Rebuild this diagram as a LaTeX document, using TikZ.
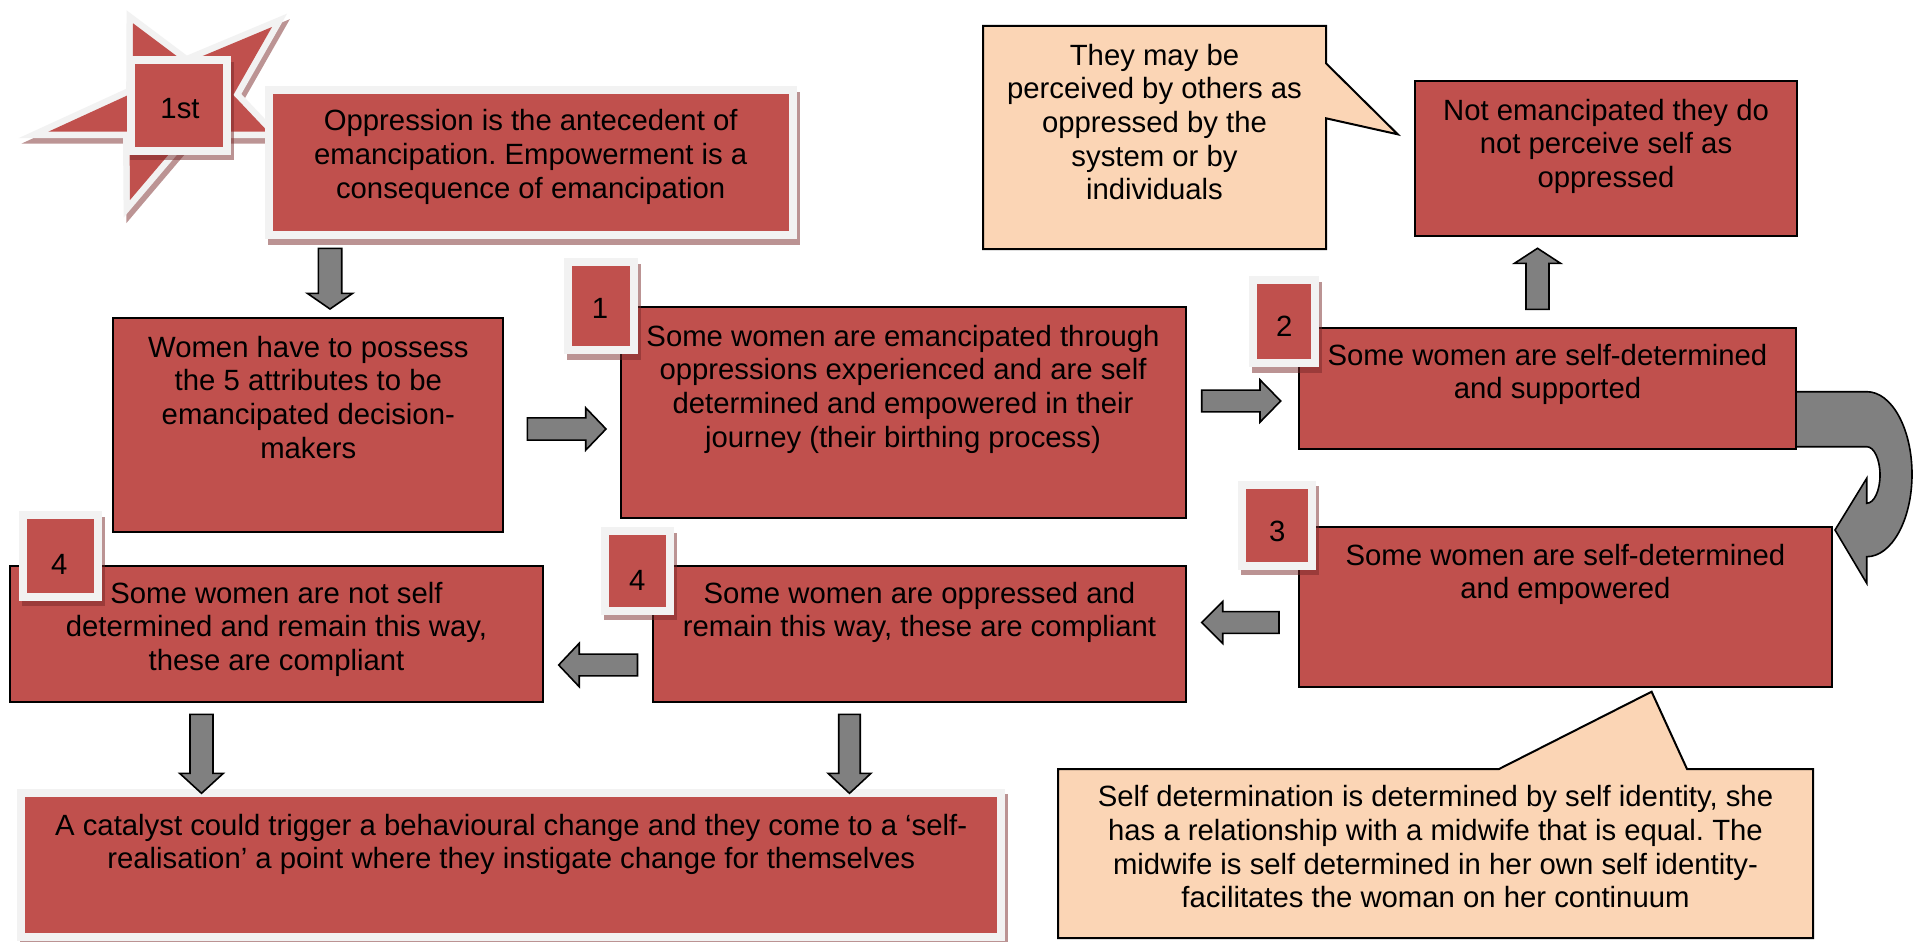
\documentclass[tikz,border=0pt]{standalone}
\usepackage{fontspec}
\setmainfont{Liberation Sans}
\usetikzlibrary{calc}
\frenchspacing

\definecolor{boxred}{HTML}{C0504D}
\definecolor{bandgray}{HTML}{F2F2F2}
\definecolor{peach}{HTML}{FBD5B5}
\definecolor{arrowgray}{HTML}{808080}
\definecolor{shadowred}{RGB}{120,40,40}
\definecolor{starshade}{RGB}{188,148,148}

\newcommand{\bodyfont}{\fontsize{29.3}{33.7}\selectfont}

\tikzset{
  redbox/.style={draw=black, line width=2pt, fill=boxred, inner sep=0pt},
  framedbox/.style={draw=bandgray, line width=8pt, fill=boxred, inner sep=0pt},
  bodytext/.style={font=\bodyfont, align=center, inner sep=0pt, anchor=north},
  numtext/.style={font=\bodyfont, inner sep=0pt, anchor=base},
  calloutshape/.style={draw=black, line width=2pt, fill=peach, line join=miter},
  flowarrow/.style={draw=black, line width=1.6pt, fill=arrowgray, line join=miter},
  castshadow/.style={fill=shadowred, fill opacity=0.5},
  starpath/.style={insert path={(133,23.3) -- (186,63) -- (272,27) -- (233.3,95)
      -- (268,131.7) -- (188,131.7) -- (130,200) -- (129.5,131.7) -- (48.3,131.7)
      -- (132.7,93) -- cycle}},
}

% rectangle node with a black outline, given by its corners
\newcommand{\outlinedpanel}[5]{%
  \node[redbox, minimum width={#4-#2}, minimum height={#5-#3}]
    (#1) at ({(#2+#4)/2},{(#3+#5)/2}) {};}

% red panel inside a light frame with a cast shadow; corners of the red part
\newcommand{\framedpanel}[5]{%
  \fill[castshadow] ({#2-8+2.8},{#3-8+5.5}) rectangle ({#4+8+2.8},{#5+8+5.5});
  \node[framedbox, minimum width={#4-#2+8}, minimum height={#5-#3+8}]
    (#1) at ({(#2+#4)/2},{(#3+#5)/2}) {};}

% block arrow: tail point, direction, length, shaft width, head width, head length
\newcommand{\blockarrow}[6]{%
  \begin{scope}[shift={(#1)}, rotate=#2]
    \draw[flowarrow] (0,{-#4/2}) -- ({#3-#6},{-#4/2}) -- ({#3-#6},{-#5/2}) -- (#3,0)
      -- ({#3-#6},{#5/2}) -- ({#3-#6},{#4/2}) -- (0,{#4/2}) -- cycle;
  \end{scope}}

\begin{document}
\begin{tikzpicture}[x=1pt, y=-1pt]
\useasboundingbox (0,0) rectangle (1917,942);
\fill[white] (0,0) rectangle (1917,942);

% star behind the "1st" badge
\filldraw[shift={(2.8,5.5)}, fill=starshade, draw=starshade, line width=13pt, line join=miter, starpath];
\filldraw[fill=bandgray, draw=bandgray, line width=13pt, line join=miter, starpath];
\fill[boxred, starpath];

% U-turn arrow from "supported" down to "empowered"
\draw[flowarrow] (1796,391.7) -- (1866.7,391.7)
  .. controls (1891.7,391.7) and (1912,428.6) .. (1912,474.2)
  .. controls (1912,519.8) and (1891.7,556.7) .. (1866.7,556.7)
  -- (1866.7,583.3) -- (1835,530) -- (1866.7,478.3) -- (1866.7,503.3)
  .. controls (1874.1,503.3) and (1880,490.6) .. (1880,475)
  .. controls (1880,459.4) and (1874.1,446.7) .. (1866.7,446.7)
  -- (1796,446.7) -- cycle;

% outlined statement boxes
\outlinedpanel{women}{113.3}{318.3}{503.3}{531.7}
\outlinedpanel{emanc}{620.5}{307}{1185.5}{518.3}
\outlinedpanel{supported}{1299}{327.7}{1796}{449}
\outlinedpanel{empowered}{1299}{526.7}{1832}{687}
\outlinedpanel{notemanc}{1415}{81}{1797}{236}
\outlinedpanel{oppressed}{653.3}{566}{1185.5}{702}
\outlinedpanel{notself}{10}{565.7}{543}{702}

% framed boxes
\framedpanel{antecedent}{272.7}{94}{788.7}{231}
\framedpanel{catalyst}{25.3}{796.7}{997.2}{933}

% numbered badges
\framedpanel{badge1st}{135}{64.3}{223.3}{146.7}
\framedpanel{badge1}{572}{266}{630}{346}
\framedpanel{badge2}{1257.3}{284.3}{1311.3}{359.3}
\framedpanel{badge3}{1246}{488.7}{1308}{561.7}
\framedpanel{badge4a}{26.7}{519.3}{94}{592.7}
\framedpanel{badge4b}{609.3}{535}{665.7}{606.7}

% callouts
\draw[calloutshape] (983,26) -- (1326,26) -- (1326,63.3) -- (1397.7,134.3) -- (1326,118.3)
  -- (1326,249) -- (983,249) -- cycle;
\draw[calloutshape] (1058,769) -- (1499,769) -- (1651.6,691.7) -- (1687,769) -- (1813,769)
  -- (1813,938) -- (1058,938) -- cycle;

% straight block arrows
\coordinate (a-ant-wom) at (330,248.3);
\coordinate (a-wom-emc) at (527.3,429);
\coordinate (a-emc-sup) at (1201.7,401);
\coordinate (a-sup-not) at (1537.5,309.3);
\coordinate (a-emp-opp) at (1279,622.5);
\coordinate (a-opp-nsd) at (637.5,665);
\coordinate (a-nsd-cat) at (201.5,714.3);
\coordinate (a-opp-cat) at (849.5,714.3);
\blockarrow{a-ant-wom}{-90}{60.7}{23.4}{45.4}{15.7}
\blockarrow{a-wom-emc}{0}{78.7}{22.3}{42.3}{20.3}
\blockarrow{a-emc-sup}{0}{79}{21.7}{42.3}{20.7}
\blockarrow{a-sup-not}{90}{61}{23}{46}{15}
\blockarrow{a-emp-opp}{180}{77.3}{21.7}{41.7}{21}
\blockarrow{a-opp-nsd}{180}{78.8}{21.7}{43.4}{20.5}
\blockarrow{a-nsd-cat}{-90}{79}{23}{43.7}{20}
\blockarrow{a-opp-cat}{-90}{79}{21.5}{43}{20}

% badge numbers
\node[numtext] (n1st) at (180,118) {1st};
\node[numtext] (n1) at (600,318.3) {1};
\node[numtext] (n2) at (1284.3,336.7) {2};
\node[numtext] (n3) at (1277.3,541.7) {3};
\node[numtext] (n4a) at (59.3,574) {4};
\node[numtext] (n4b) at (637.3,590) {4};

% box texts
\node[bodytext] (t-antecedent) at (530.7,107.1)
  {\strut Oppression is the antecedent of\\emancipation. Empowerment is a\\consequence of emancipation};
\node[bodytext] (t-women) at (308.3,333.4)
  {\strut Women have to possess\\the 5 attributes to be\\emancipated decision-\\makers};
\node[bodytext] (t-emanc) at (903,322.4)
  {\strut Some women are emancipated through\\oppressions experienced and are self\\determined and empowered in their\\journey (their birthing process)};
\node[bodytext] (t-supported) at (1547.5,341.4)
  {\strut Some women are self-determined\\and supported};
\node[bodytext] (t-empowered) at (1565.5,541.4)
  {\strut Some women are self-determined\\and empowered};
\node[bodytext] (t-notemanc) at (1606,96.4)
  {\strut Not emancipated they do\\not perceive self as\\oppressed};
\node[bodytext] (t-perceived) at (1154.5,41.4)
  {\strut They may be\\perceived by others as\\oppressed by the\\system or by\\individuals};
\node[bodytext] (t-oppressed) at (919.5,579.4)
  {\strut Some women are oppressed and\\remain this way, these are compliant};
\node[bodytext] (t-notself) at (276.5,579.4)
  {\strut Some women are not self\\determined and remain this way,\\these are compliant};
\node[bodytext] (t-catalyst) at (511.2,811.4)
  {\strut A catalyst could trigger a behavioural change and they come to a ‘self-\\realisation’ a point where they instigate change for themselves};
\node[bodytext] (t-identity) at (1435.5,783.1)
  {\strut Self determination is determined by self identity, she\\has a relationship with a midwife that is equal. The\\midwife is self determined in her own self identity-\\facilitates the woman on her continuum};
\end{tikzpicture}
\end{document}
